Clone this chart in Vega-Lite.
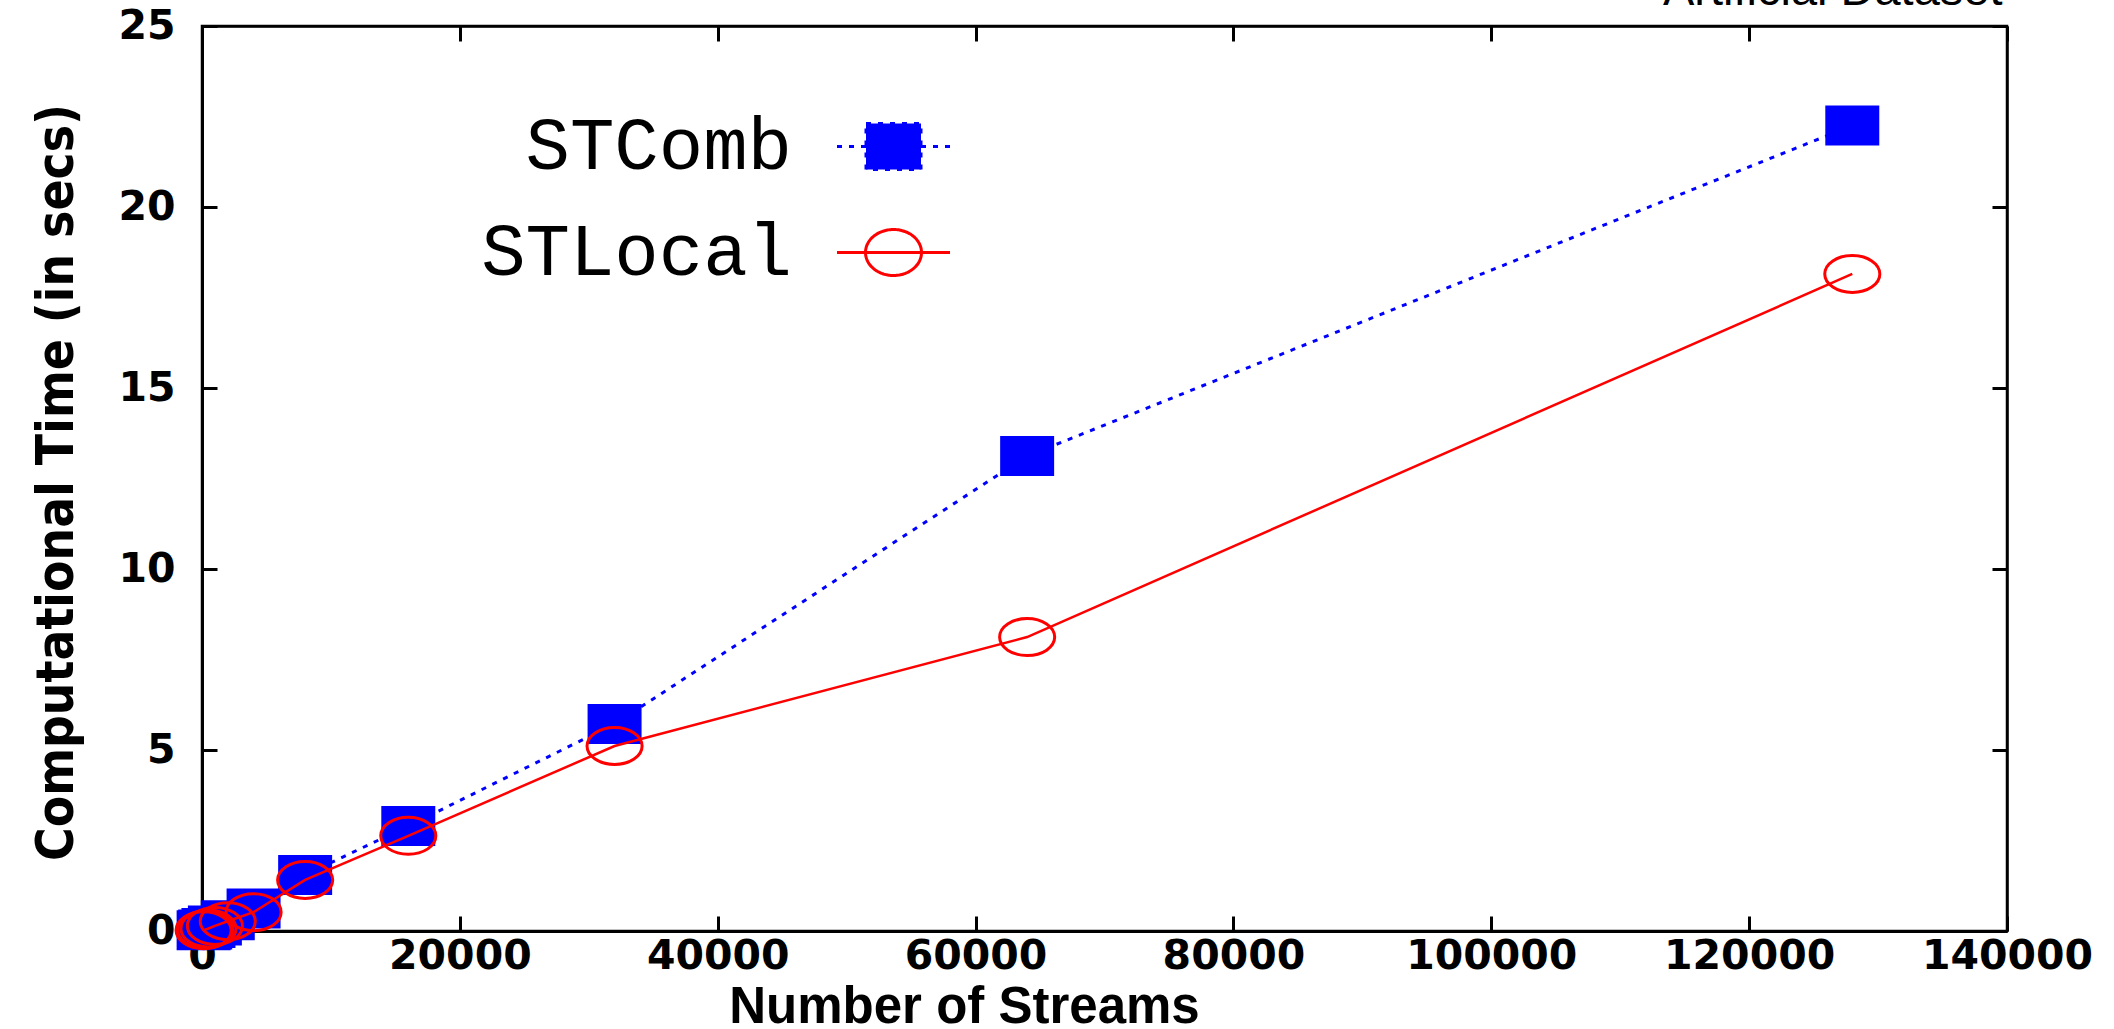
{
  "$schema": "https://vega.github.io/schema/vega-lite/v6.json",
  "autosize": {"type": "none"},
  "width": 1805,
  "height": 905,
  "padding": {"left": 202, "top": 26, "right": 107, "bottom": 98},
  "background": "white",
  "config": {
    "view": {"stroke": "black", "strokeWidth": 2.5},
    "axis": {"domainColor": "black", "domainWidth": 3, "tickColor": "black", "tickWidth": 3, "grid": false}
  },
  "data": {"values": [
    {"streams": 125, "time": 0.02, "series": "STComb"},
    {"streams": 250, "time": 0.04, "series": "STComb"},
    {"streams": 500, "time": 0.08, "series": "STComb"},
    {"streams": 1000, "time": 0.15, "series": "STComb"},
    {"streams": 2000, "time": 0.3, "series": "STComb"},
    {"streams": 4000, "time": 0.62, "series": "STComb"},
    {"streams": 8000, "time": 1.55, "series": "STComb"},
    {"streams": 16000, "time": 2.9, "series": "STComb"},
    {"streams": 32000, "time": 5.72, "series": "STComb"},
    {"streams": 64000, "time": 13.12, "series": "STComb"},
    {"streams": 128000, "time": 22.25, "series": "STComb"},
    {"streams": 125, "time": 0.02, "series": "STLocal"},
    {"streams": 250, "time": 0.04, "series": "STLocal"},
    {"streams": 500, "time": 0.07, "series": "STLocal"},
    {"streams": 1000, "time": 0.14, "series": "STLocal"},
    {"streams": 2000, "time": 0.27, "series": "STLocal"},
    {"streams": 4000, "time": 0.52, "series": "STLocal"},
    {"streams": 8000, "time": 1.41, "series": "STLocal"},
    {"streams": 16000, "time": 2.63, "series": "STLocal"},
    {"streams": 32000, "time": 5.11, "series": "STLocal"},
    {"streams": 64000, "time": 8.12, "series": "STLocal"},
    {"streams": 128000, "time": 18.15, "series": "STLocal"}
  ]},
  "encoding": {
    "x": {"field": "streams", "type": "quantitative", "scale": {"domain": [0, 140000], "nice": false, "zero": false}},
    "y": {"field": "time", "type": "quantitative", "scale": {"domain": [0, 25], "nice": false, "zero": false}},
    "stroke": {"field": "series", "type": "nominal", "scale": {"domain": ["STComb", "STLocal"], "range": ["#0000ff", "#ff0000"]}}
  },
  "layer": [
    {
      "transform": [{"filter": "datum.series === 'STComb'"}],
      "mark": {"type": "line", "strokeWidth": 3, "strokeDash": [5, 7], "clip": true},
      "encoding": {
        "x": {"field": "streams", "type": "quantitative", "axis": {
          "orient": "bottom", "values": [0, 20000, 40000, 60000, 80000, 100000, 120000, 140000], "format": "d",
          "labelFont": "DejaVu Sans", "labelFontWeight": "bold", "labelFontSize": 41, "labelColor": "black",
          "tickSize": -15, "labelPadding": 20, "labelFlush": false, "labelOverlap": false,
          "title": "Number of Streams", "titleFont": "Liberation Sans", "titleFontWeight": "bold", "titleFontSize": 51, "titleColor": "black",
          "titleX": 762, "titleY": 91, "titleAlign": "center", "titleBaseline": "alphabetic"}},
        "y": {"field": "time", "type": "quantitative", "axis": {
          "orient": "left", "values": [0, 5, 10, 15, 20, 25],
          "labelFont": "DejaVu Sans", "labelFontWeight": "bold", "labelFontSize": 41, "labelColor": "black",
          "tickSize": -15, "labelPadding": 42, "labelFlush": false, "labelOverlap": false,
          "title": "Computational Time (in secs)", "titleFont": "DejaVu Sans Condensed, Liberation Sans", "titleFontWeight": "bold", "titleFontSize": 51, "titleColor": "black",
          "titleX": -145, "titleY": 456, "titleAngle": 270, "titleAlign": "center", "titleBaseline": "middle"}},
        "stroke": {"field": "series", "type": "nominal", "legend": {
          "orient": "none", "legendX": 640, "legendY": 69, "title": null, "padding": 0, "rowPadding": 17,
          "symbolSize": 10000, "labelFont": "Liberation Mono", "labelFontSize": 74, "labelColor": "black",
          "labelAlign": "right", "labelOffset": -153, "labelLimit": 1000, "labelBaseline": "middle",
          "encode": {"symbols": {"update": {
            "shape": {"signal": "datum.value === 'STComb' ? 'M-1.13,0H-0.55M0.55,0H1.13M-0.55,-0.46H0.55V0.46H-0.55Z' : 'M-1.13,0H1.13M-0.56,0A0.56,0.46 0 1,1 0.56,0A0.56,0.46 0 1,1 -0.56,0Z'"},
            "fill": {"signal": "datum.value === 'STComb' ? '#0000ff' : 'transparent'"},
            "stroke": {"signal": "datum.value === 'STComb' ? '#0000ff' : '#ff0000'"},
            "strokeDash": {"signal": "datum.value === 'STComb' ? [5, 7] : [1, 0]"},
            "strokeWidth": {"value": 3},
            "size": {"value": 10000},
            "opacity": {"value": 1}
          }}}
        }}
      }
    },
    {
      "transform": [{"filter": "datum.series === 'STComb'"}],
      "mark": {"type": "point", "shape": "M-0.944,-0.685H0.944V0.685H-0.944Z", "size": 2916, "filled": true, "fill": "#0000ff", "strokeWidth": 3, "opacity": 1},
      "encoding": {
        "x": {"field": "streams", "type": "quantitative", "axis": {"orient": "top", "values": [0, 20000, 40000, 60000, 80000, 100000, 120000, 140000], "labels": false, "tickSize": -15, "domainWidth": 2.5,
          "title": "Artificial Dataset", "titleFont": "Liberation Sans", "titleFontWeight": "normal", "titleFontSize": 47, "titleColor": "black",
          "titleX": 1800, "titleY": -22, "titleAlign": "right", "titleBaseline": "alphabetic"}},
        "y": {"field": "time", "type": "quantitative", "axis": {"orient": "right", "values": [0, 5, 10, 15, 20, 25], "labels": false, "title": null, "tickSize": -15, "domainWidth": 2.5}}
      }
    },
    {
      "transform": [{"filter": "datum.series === 'STLocal'"}],
      "mark": {"type": "line", "strokeWidth": 2.5},
      "encoding": {
        "x": {"field": "streams", "type": "quantitative", "axis": null},
        "y": {"field": "time", "type": "quantitative", "axis": null}
      }
    },
    {
      "transform": [{"filter": "datum.series === 'STLocal'"}],
      "mark": {"type": "point", "shape": "M-1.02,0A1.02,0.685 0 1,1 1.02,0A1.02,0.685 0 1,1 -1.02,0Z", "size": 2916, "filled": false, "strokeWidth": 3, "opacity": 1},
      "encoding": {
        "x": {"field": "streams", "type": "quantitative", "axis": null},
        "y": {"field": "time", "type": "quantitative", "axis": null}
      }
    }
  ],
  "resolve": {"axis": {"x": "independent", "y": "independent"}}
}
